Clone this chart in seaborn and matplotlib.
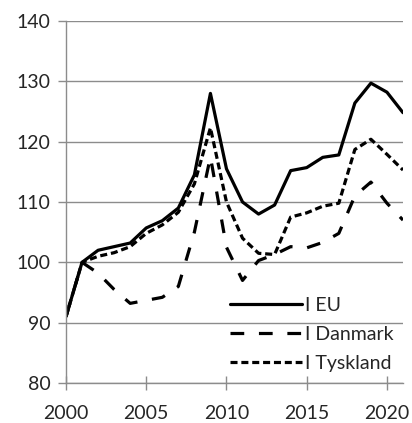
import numpy as np
import pandas as pd
import matplotlib
matplotlib.use("Agg")
import matplotlib.pyplot as plt
import seaborn as sns

# data
years = list(range(2000, 2022))
eu = [91, 100, 102, 102.6, 103.2, 105.7, 106.9, 109, 114.5, 128, 115.5, 110,
      108, 109.5, 115.2, 115.7, 117.4, 117.8, 126.4, 129.7, 128.2, 124.8]
danmark = [91, 100, 98.2, 95.5, 93.2, 93.7, 94.2, 96, 105, 117.5, 102.5, 97,
           100.3, 101.3, 102.6, 102.4, 103.3, 104.8, 111, 113.3, 109.8, 107]
tyskland = [91, 100, 101, 101.6, 102.6, 104.8, 106.2, 108.3, 113, 122.3, 110, 104,
            101.5, 101.3, 107.5, 108.2, 109.3, 109.8, 118.7, 120.4, 117.9, 115.3]
labels = ["I EU", "I Danmark", "I Tyskland"]

df = pd.DataFrame({"year": years * 3,
                   "value": eu + danmark + tyskland,
                   "serie": [labels[0]] * len(years) + [labels[1]] * len(years) + [labels[2]] * len(years)})

sns.set_style("white")
plt.rcParams["font.family"] = ["Lato", "DejaVu Sans"]

fig = plt.figure(figsize=(4.12, 4.23), dpi=100)
ax = fig.add_axes([66 / 412, 1 - 383 / 423, 337 / 412, 362 / 423])

grid_col = "#8c8c8c"
dash_styles = {labels[0]: "", labels[1]: (4.3, 4.6), labels[2]: (2.2, 1.2)}
sns.lineplot(data=df, x="year", y="value", style="serie", dashes=dash_styles,
             color="black", linewidth=2.3, ax=ax, legend=False)
for ln in ax.get_lines():
    ln.set_dash_capstyle("butt")

ax.set_xlim(2000, 2021)
ax.set_ylim(80, 140)
ax.set_xticks([2000, 2005, 2010, 2015, 2020])
ax.set_yticks([80, 90, 100, 110, 120, 130, 140])
ax.set_xlabel("")
ax.set_ylabel("")

ax.yaxis.grid(True, color=grid_col, linewidth=1.0)
ax.set_axisbelow(True)
for s in ["top", "right"]:
    ax.spines[s].set_visible(False)
for s in ["left", "bottom"]:
    ax.spines[s].set_color(grid_col)
    ax.spines[s].set_linewidth(1.0)

ax.tick_params(axis="x", direction="inout", length=10, width=1.0, color=grid_col,
               labelsize=14, pad=11, bottom=True)
ax.tick_params(axis="y", direction="out", length=6, width=1.0, color=grid_col,
               labelsize=14, pad=5, left=True)

handles = [plt.Line2D([], [], color="black", linewidth=2.3, linestyle="-"),
           plt.Line2D([], [], color="black", linewidth=2.3, dashes=dash_styles[labels[1]], dash_capstyle="butt"),
           plt.Line2D([], [], color="black", linewidth=2.3, dashes=dash_styles[labels[2]], dash_capstyle="butt")]
ax.legend(handles, labels, loc="lower left", bbox_to_anchor=(0.445, -0.008),
          frameon=False, fontsize=14, handlelength=3.7, handletextpad=0.2,
          labelspacing=0.62, borderpad=0.2)

fig.savefig("out.png", dpi=100)
